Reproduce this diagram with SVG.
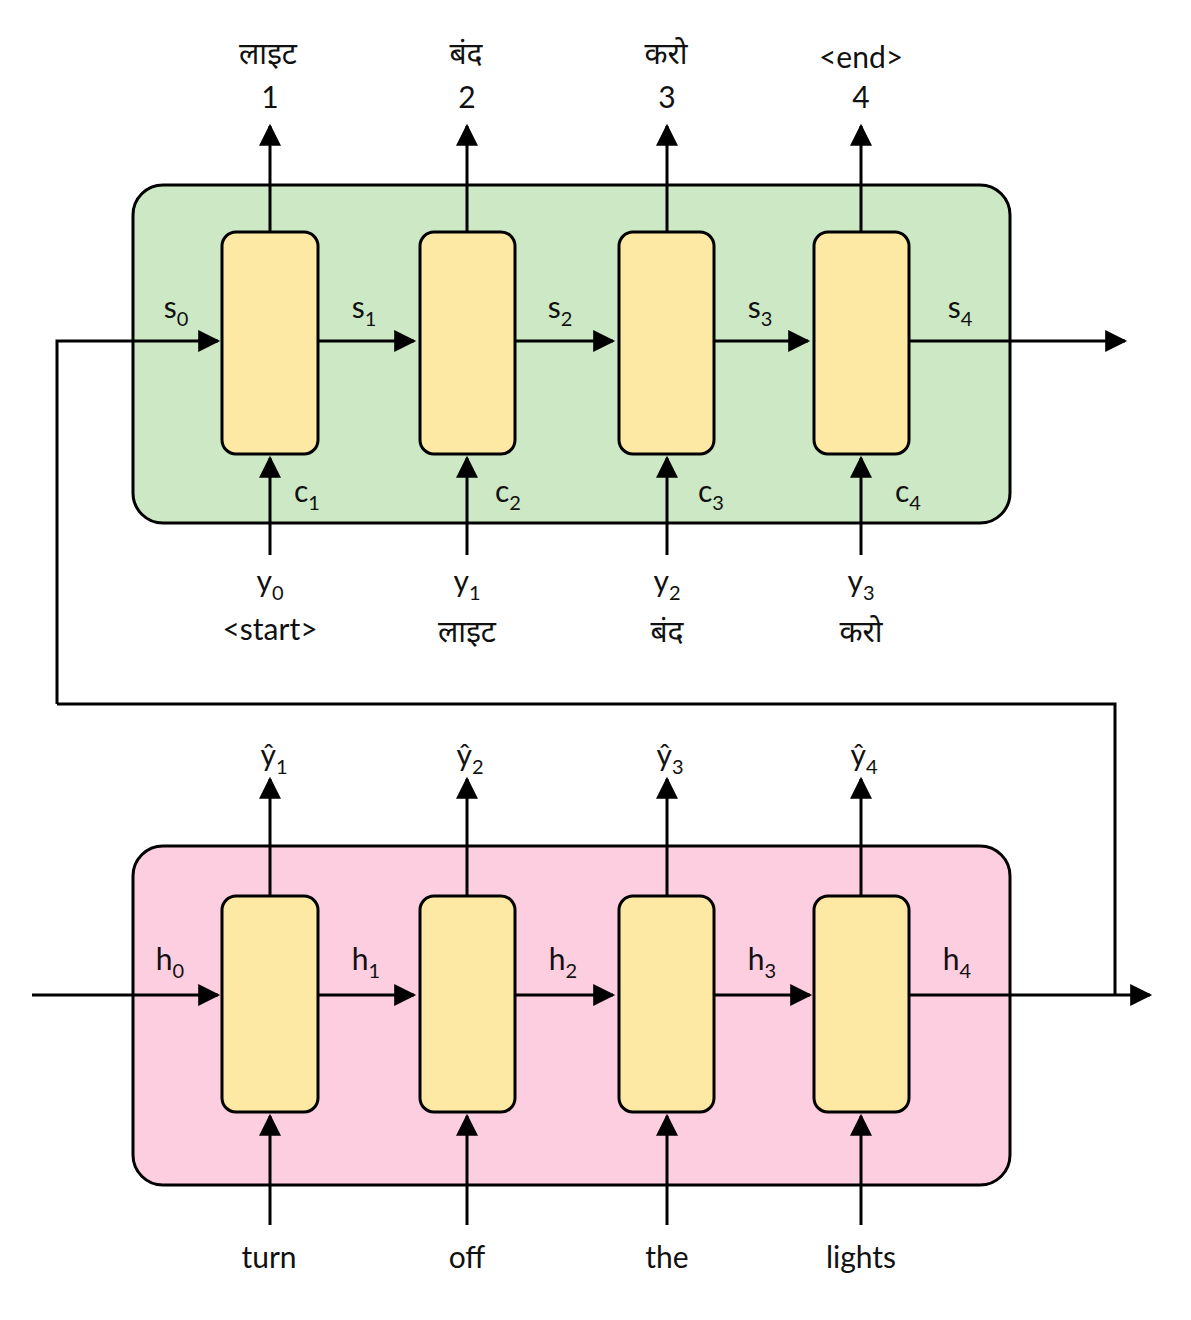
<svg xmlns="http://www.w3.org/2000/svg" width="1191" height="1320" viewBox="0 0 1191 1320">
<defs>
<marker id="ah" viewBox="0 0 10 10" refX="9" refY="5" markerWidth="9" markerHeight="9" markerUnits="userSpaceOnUse" orient="auto"><path d="M0,0 L10,5 L0,10 z" fill="#000"/></marker>
<marker id="a" viewBox="0 0 10 10" refX="9" refY="5" markerWidth="24" markerHeight="22" markerUnits="userSpaceOnUse" orient="auto"><path d="M0,0 L10,5 L0,10 z" fill="#000"/></marker>
<style>
.cell{fill:#fde8a4;stroke:#000;stroke-width:3}
.ln{stroke:#000;stroke-width:3;fill:none}
.t{font-family:Lato,"Noto Sans","Noto Sans Devanagari",sans-serif;font-size:30px;fill:#111;text-anchor:middle}
.s{font-size:20px}
</style>
</defs>
<rect x="0" y="0" width="1191" height="1320" fill="#fff"/>
<g id="decoder"><rect x="133" y="185" width="877" height="338" rx="30" fill="#cde8c4" stroke="#000" stroke-width="3"/></g>
<g id="encoder"><rect x="133" y="846" width="877" height="339" rx="30" fill="#fdcde0" stroke="#000" stroke-width="3"/></g>
<g id="connectors">
<path class="ln" d="M57,704 V341 H218" marker-end="url(#a)"/>
<path class="ln" d="M318,341 H414" marker-end="url(#a)"/>
<path class="ln" d="M515,341 H613" marker-end="url(#a)"/>
<path class="ln" d="M714,341 H808" marker-end="url(#a)"/>
<path class="ln" d="M909,341 H1125" marker-end="url(#a)"/>
<path class="ln" d="M57,704 H1115 V995"/>
<path class="ln" d="M32,995 H218" marker-end="url(#a)"/>
<path class="ln" d="M318,995 H414" marker-end="url(#a)"/>
<path class="ln" d="M515,995 H613" marker-end="url(#a)"/>
<path class="ln" d="M714,995 H810" marker-end="url(#a)"/>
<path class="ln" d="M909,995 H1150" marker-end="url(#a)"/>
<path class="ln" d="M270,232 V126" marker-end="url(#a)"/>
<path class="ln" d="M467,232 V126" marker-end="url(#a)"/>
<path class="ln" d="M667,232 V126" marker-end="url(#a)"/>
<path class="ln" d="M861,232 V126" marker-end="url(#a)"/>
<path class="ln" d="M270,555 V458" marker-end="url(#a)"/>
<path class="ln" d="M467,555 V458" marker-end="url(#a)"/>
<path class="ln" d="M667,555 V458" marker-end="url(#a)"/>
<path class="ln" d="M861,555 V458" marker-end="url(#a)"/>
<path class="ln" d="M270,896 V779" marker-end="url(#a)"/>
<path class="ln" d="M467,896 V779" marker-end="url(#a)"/>
<path class="ln" d="M667,896 V779" marker-end="url(#a)"/>
<path class="ln" d="M861,896 V779" marker-end="url(#a)"/>
<path class="ln" d="M270,1225 V1116" marker-end="url(#a)"/>
<path class="ln" d="M467,1225 V1116" marker-end="url(#a)"/>
<path class="ln" d="M667,1225 V1116" marker-end="url(#a)"/>
<path class="ln" d="M861,1225 V1116" marker-end="url(#a)"/>
</g>
<g id="d1"><rect class="cell" x="222" y="232" width="96" height="222" rx="14"/></g>
<g id="d2"><rect class="cell" x="420" y="232" width="95" height="222" rx="14"/></g>
<g id="d3"><rect class="cell" x="619" y="232" width="95" height="222" rx="14"/></g>
<g id="d4"><rect class="cell" x="814" y="232" width="95" height="222" rx="14"/></g>
<g id="e1"><rect class="cell" x="222" y="896" width="96" height="216" rx="14"/></g>
<g id="e2"><rect class="cell" x="420" y="896" width="95" height="216" rx="14"/></g>
<g id="e3"><rect class="cell" x="619" y="896" width="95" height="216" rx="14"/></g>
<g id="e4"><rect class="cell" x="814" y="896" width="95" height="216" rx="14"/></g>
<g id="labels" class="t">
<text x="268" y="64">लाइट</text><text x="270" y="108">1</text>
<text x="466" y="64">बंद</text><text x="467" y="108">2</text>
<text x="666" y="64">करो</text><text x="667" y="108">3</text>
<text x="861" y="68">&lt;end&gt;</text><text x="861" y="108">4</text>
<text x="176" y="318">s<tspan class="s" dy="8">0</tspan></text>
<text x="364" y="318">s<tspan class="s" dy="8">1</tspan></text>
<text x="560" y="318">s<tspan class="s" dy="8">2</tspan></text>
<text x="760" y="318">s<tspan class="s" dy="8">3</tspan></text>
<text x="960" y="318">s<tspan class="s" dy="8">4</tspan></text>
<text x="307" y="502">c<tspan class="s" dy="8">1</tspan></text>
<text x="508" y="502">c<tspan class="s" dy="8">2</tspan></text>
<text x="711" y="502">c<tspan class="s" dy="8">3</tspan></text>
<text x="908" y="502">c<tspan class="s" dy="8">4</tspan></text>
<text x="270" y="592">y<tspan class="s" dy="8">0</tspan></text>
<text x="270" y="640">&lt;start&gt;</text>
<text x="467" y="592">y<tspan class="s" dy="8">1</tspan></text>
<text x="467" y="642">लाइट</text>
<text x="667" y="592">y<tspan class="s" dy="8">2</tspan></text>
<text x="667" y="642">बंद</text>
<text x="861" y="592">y<tspan class="s" dy="8">3</tspan></text>
<text x="861" y="642">करो</text>
<text x="274" y="766">ŷ<tspan class="s" dy="8">1</tspan></text>
<text x="470" y="766">ŷ<tspan class="s" dy="8">2</tspan></text>
<text x="670" y="766">ŷ<tspan class="s" dy="8">3</tspan></text>
<text x="864" y="766">ŷ<tspan class="s" dy="8">4</tspan></text>
<text x="170" y="970">h<tspan class="s" dy="8">0</tspan></text>
<text x="366" y="970">h<tspan class="s" dy="8">1</tspan></text>
<text x="563" y="970">h<tspan class="s" dy="8">2</tspan></text>
<text x="762" y="970">h<tspan class="s" dy="8">3</tspan></text>
<text x="957" y="970">h<tspan class="s" dy="8">4</tspan></text>
<text x="269" y="1268">turn</text>
<text x="467" y="1268">off</text>
<text x="667" y="1268">the</text>
<text x="861" y="1268">lights</text>
</g>
</svg>
